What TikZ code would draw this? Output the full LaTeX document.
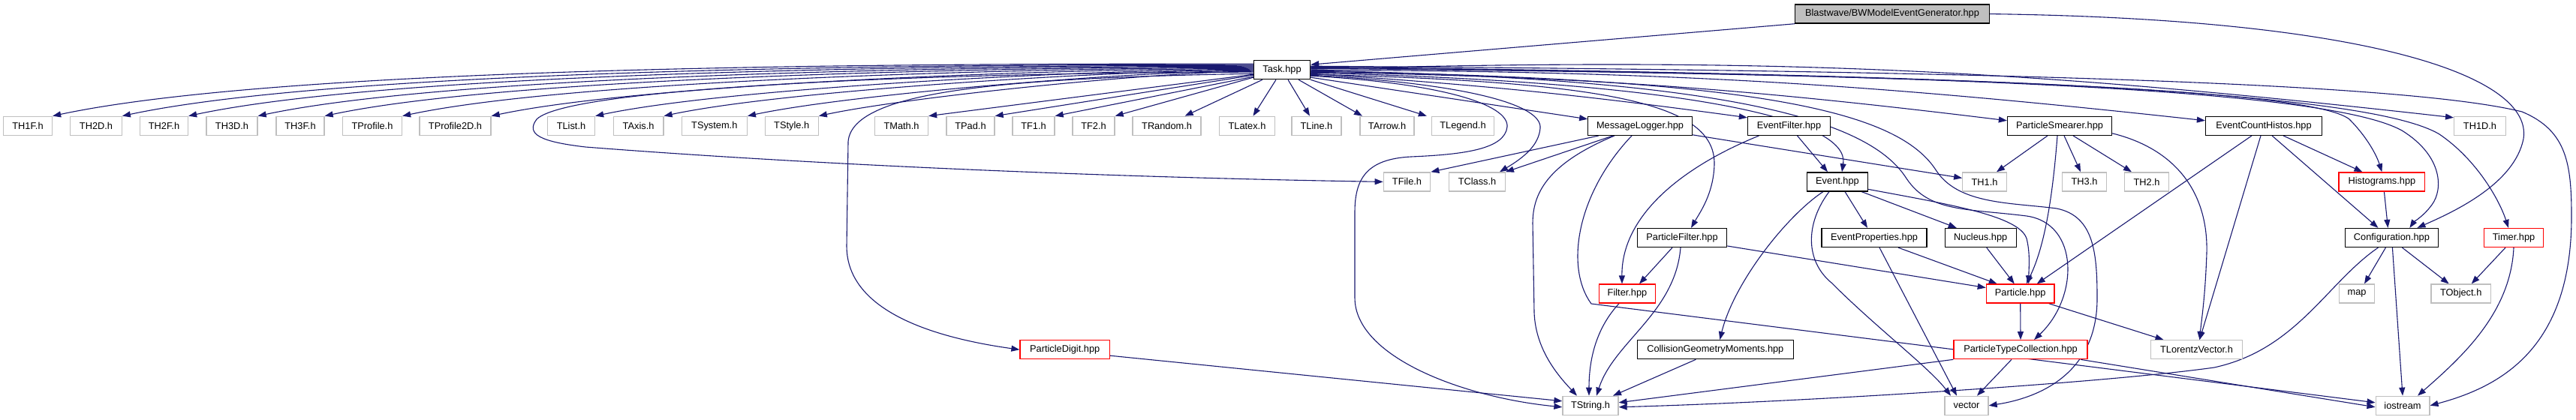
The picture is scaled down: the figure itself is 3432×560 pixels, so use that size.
\documentclass[tikz,border=0pt]{standalone}
\usepackage{fontspec}
\setmainfont{Liberation Sans}
\usetikzlibrary{arrows.meta}
\definecolor{navy}{HTML}{191970}
\definecolor{gray75}{HTML}{BFBFBF}
\definecolor{nred}{HTML}{FF0000}
\pgfdeclarelayer{bg}
\pgfsetlayers{bg,main}
\newcommand\nodefont{\fontsize{6.4}{7.5}\selectfont}
\begin{document}
\begin{tikzpicture}[x=0.5pt,y=-0.5pt,
 hbox/.style={draw=#1, line width=0.65pt, minimum height=12.5pt, inner sep=0pt, font=\nodefont, fill=white, text=black},
 ext/.style={hbox=gray75},
 doc/.style={hbox=black},
 trunc/.style={hbox=nred},
 wd/.style={minimum width=#1*0.5pt},
 edg/.style={draw=navy, line width=0.55pt, -{Triangle[length=5.5pt,width=4pt]}},
 fan/.style={out=180,in=12,looseness=0.55}
]
\useasboundingbox (0,0) rectangle (3432,560);
% row 0
\node[doc, fill=gray75, wd=259] (bw) at (2521,18.6) {Blastwave/BWModelEventGenerator.hpp};
% row 1
\node[doc, wd=75] (task) at (1708,93.2) {Task.hpp};
% row 2
\node[ext, wd=65] (th1f) at (37,167.8) {TH1F.h};
\node[ext, wd=68.5] (th2d) at (128,167.8) {TH2D.h};
\node[ext, wd=64] (th2f) at (218.5,167.8) {TH2F.h};
\node[ext, wd=68] (th3d) at (309,167.8) {TH3D.h};
\node[ext, wd=64] (th3f) at (400,167.8) {TH3F.h};
\node[ext, wd=79] (tprof) at (496,167.8) {TProfile.h};
\node[ext, wd=95] (tprof2) at (606.5,167.8) {TProfile2D.h};
\node[ext, wd=63] (tlist) at (761,167.8) {TList.h};
\node[ext, wd=66.6] (taxis) at (850.6,167.8) {TAxis.h};
\node[ext, wd=87] (tsys) at (951.8,167.8) {TSystem.h};
\node[ext, wd=71] (tstyle) at (1054.7,167.8) {TStyle.h};
\node[ext, wd=71] (tmath) at (1201,167.8) {TMath.h};
\node[ext, wd=64] (tpad) at (1293,167.8) {TPad.h};
\node[ext, wd=56] (tf1) at (1377,167.8) {TF1.h};
\node[ext, wd=56] (tf2) at (1457,167.8) {TF2.h};
\node[ext, wd=91] (trand) at (1554.6,167.8) {TRandom.h};
\node[ext, wd=74] (tlatex) at (1661.5,167.8) {TLatex.h};
\node[ext, wd=66] (tline) at (1754,167.8) {TLine.h};
\node[ext, wd=72] (tarrow) at (1848,167.8) {TArrow.h};
\node[ext, wd=83] (tlegend) at (1949,167.8) {TLegend.h};
\node[doc, wd=138.5] (msglog) at (2185,167.8) {MessageLogger.hpp};
\node[doc, wd=110] (evfilt) at (2383.5,167.8) {EventFilter.hpp};
\node[doc, wd=139] (psmear) at (2744,167.8) {ParticleSmearer.hpp};
\node[doc, wd=155] (ech) at (3016,167.8) {EventCountHistos.hpp};
\node[ext, wd=68.7] (th1d) at (3304,167.8) {TH1D.h};
% row 3
\node[ext, wd=62.4] (tfile) at (1874.5,242.4) {TFile.h};
\node[ext, wd=74.6] (tclass) at (1968,242.4) {TClass.h};
\node[doc, wd=81] (event) at (2448,242.4) {Event.hpp};
\node[ext, wd=58.5] (th1) at (2644,242.4) {TH1.h};
\node[ext, wd=59] (th3) at (2777,242.4) {TH3.h};
\node[ext, wd=59] (th2) at (2860,242.4) {TH2.h};
\node[trunc, wd=114.7] (hist) at (3173.4,242.4) {Histograms.hpp};
% row 4
\node[doc, wd=119.4] (pfilt) at (2241,317) {ParticleFilter.hpp};
\node[doc, wd=140] (evprop) at (2497,317) {EventProperties.hpp};
\node[doc, wd=95] (nucleus) at (2638.7,317) {Nucleus.hpp};
\node[doc, wd=124] (config) at (3186.4,317) {Configuration.hpp};
\node[trunc, wd=79.3] (timer) at (3349,317) {Timer.hpp};
% row 5
\node[trunc, wd=75] (filter) at (2168,391.6) {Filter.hpp};
\node[trunc, wd=90.7] (particle) at (2691.7,391.6) {Particle.hpp};
\node[ext, wd=47] (map) at (3140,391.6) {map};
\node[ext, wd=79.3] (tobject) at (3278.7,391.6) {TObject.h};
% row 6
\node[trunc, wd=119.4] (pdigit) at (1418.7,466.2) {ParticleDigit.hpp};
\node[doc, wd=208] (cgm) at (2285.3,466.2) {CollisionGeometryMoments.hpp};
\node[trunc, wd=178] (ptc) at (2692,466.2) {ParticleTypeCollection.hpp};
\node[ext, wd=121.5] (tlv) at (2926.5,466.2) {TLorentzVector.h};
% row 7
\node[ext, wd=74] (tstring) at (2119,540.8) {TString.h};
\node[ext, wd=58] (vector) at (2620,540.8) {vector};
\node[ext, wd=71.7] (iostream) at (3201,540.8) {iostream};

\begin{pgfonlayer}{bg}
\fill[white] (0,0) rectangle (3432,560);
% BW
\draw[edg] (bw.south west) -- ([yshift=3.5pt]task.east);
\draw[edg] (bw.east) .. controls (3150,25) and (3375,100) .. (3362,185) .. controls (3350,245) and (3270,282) .. ([xshift=17pt]config.north);
% Task -> left fan
\draw[edg] ([yshift=4pt]task.west) to[fan] (th1f.north east);
\draw[edg] ([yshift=3.5pt]task.west) to[fan] (th2d.north east);
\draw[edg] ([yshift=3pt]task.west) to[fan] (th2f.north east);
\draw[edg] ([yshift=2.5pt]task.west) to[fan] (th3d.north east);
\draw[edg] ([yshift=2pt]task.west) to[fan] (th3f.north east);
\draw[edg] ([yshift=1.5pt]task.west) to[fan] (tprof.north east);
\draw[edg] ([yshift=1pt]task.west) to[fan] (tprof2.north east);
\draw[edg] ([yshift=0.5pt]task.west) to[fan] (tlist.north east);
\draw[edg] (task.west) to[fan] (taxis.north east);
\draw[edg] ([yshift=-0.5pt]task.west) to[fan] (tsys.north east);
\draw[edg] ([yshift=-1pt]task.west) to[fan] (tstyle.north east);
\draw[edg] ([yshift=-3pt]task.west) -- (tmath.north east);
\draw[edg] ([yshift=-3.5pt]task.west) -- (tpad.north east);
\draw[edg] ([yshift=-4.5pt]task.west) -- (tf1.north east);
\draw[edg] ([yshift=-5pt]task.west) -- (tf2.north east);
\draw[edg] ([yshift=-1.5pt]task.west) .. controls (1300,96) and (760,114) .. (715,159) .. controls (700,179) and (720,189) .. (780,196) .. controls (1100,221) and (1500,237) .. (tfile.west);
\draw[edg] ([yshift=-2.5pt]task.west) .. controls (1350,104) and (1135,119) .. (1130,189) -- (1128,328) .. controls (1128,417) and (1250,451) .. (pdigit.west);
% Task -> bottom
\draw[edg] ([xshift=6pt]task.south west) -- ([xshift=12pt]trand.north);
\draw[edg] ([xshift=-4pt]task.south) -- ([xshift=4pt]tlatex.north);
\draw[edg] ([xshift=4pt]task.south) -- ([xshift=-4.5pt]tline.north);
\draw[edg] ([xshift=-8pt]task.south east) -- ([xshift=-16.5pt]tarrow.north);
\draw[edg] (task.south east) -- ([xshift=-3pt]tlegend.north west);
% Task -> right
\draw[edg] ([yshift=2.5pt]task.east) .. controls (2600,94) and (3200,109) .. (3360,149) .. controls (3420,174) and (3426,219) .. (3426,289) .. controls (3426,466) and (3330,516) .. (iostream.east);
\draw[edg] ([yshift=2pt]task.east) .. controls (2600,99) and (3150,119) .. (3250,179) .. controls (3300,213) and (3330,267) .. ([xshift=-3.5pt]timer.north);
\draw[edg] ([yshift=1.5pt]task.east) .. controls (2600,99) and (3100,119) .. (3200,174) .. controls (3255,208) and (3255,253) .. (3240,273) .. controls (3230,287) and (3215,297) .. ([xshift=12pt]config.north);
\draw[edg] ([yshift=1pt]task.east) .. controls (2600,99) and (3080,119) .. (3130,159) .. controls (3150,179) and (3165,203) .. (hist.north);
\draw[edg] ([yshift=0.5pt]task.east) to[bend left=4] ([yshift=5.5pt]th1d.west);
\draw[edg] (task.east) to[bend left=3] ([yshift=3.5pt]ech.west);
\draw[edg] ([yshift=-0.5pt]task.east) .. controls (2300,104) and (2490,159) .. (2540,238) .. controls (2570,283) and (2620,278) .. (2700,288) .. controls (2770,298) and (2770,396) .. ([xshift=9pt]ptc.north);
\draw[edg] ([yshift=-1pt]task.east) .. controls (2350,104) and (2530,149) .. (2580,228) .. controls (2610,273) and (2680,270) .. (2740,278) .. controls (2790,288) and (2794,338) .. (2794,398) .. controls (2794,496) and (2720,530) .. (vector.east);
\draw[edg] ([yshift=-1.5pt]task.east) to[bend left=3] ([yshift=3.5pt]psmear.west);
\draw[edg] ([yshift=-2pt]task.east) .. controls (2250,109) and (2465,159) .. ([xshift=3pt]event.north);
\draw[edg] ([yshift=-2.5pt]task.east) to[bend left=2] ([yshift=5.5pt]evfilt.west);
\draw[edg] ([yshift=-3pt]task.east) .. controls (2150,109) and (2285,139) .. (2284,219) .. controls (2283,258) and (2265,283) .. ([xshift=6pt]pfilt.north);
\draw[edg] ([yshift=-3.5pt]task.east) .. controls (1950,111) and (2055,139) .. (2052,171) .. controls (2050,194) and (2030,210) .. ([xshift=15pt]tclass.north);
\draw[edg] ([yshift=-4pt]task.east) .. controls (1920,111) and (2010,139) .. (2008,169) .. controls (2005,199) and (1950,206) .. (1880,209) .. controls (1820,212) and (1805,239) .. (1805,283) -- (1805,397) .. controls (1805,476) and (1950,530) .. ([yshift=-1pt]tstring.west);
\draw[edg] ([yshift=-5pt]task.east) -- ([yshift=4.5pt]msglog.west);
% MessageLogger
\draw[edg] ([xshift=-27.5pt]msglog.south) -- (tfile.north east);
\draw[edg] ([xshift=-18pt]msglog.south) -- (tclass.north east);
\draw[edg] ([xshift=-17pt]msglog.south) .. controls (2060,219) and (2042,259) .. (2042,298) -- (2044,417) .. controls (2046,466) and (2075,500) .. ([xshift=-9pt]tstring.north);
\draw[edg] ([xshift=-5.5pt]msglog.south) .. controls (2100,259) and (2085,357) .. (2120,405) -- ([yshift=2pt]iostream.west);
\draw[edg] ([yshift=-6pt]msglog.east) -- ([yshift=2.5pt]th1.west);
% EventFilter
\draw[edg] ([xshift=5.5pt]evfilt.south) -- ([xshift=-6.5pt]event.north);
\draw[edg] ([xshift=-20pt]evfilt.south) .. controls (2240,223) and (2160,288) .. ([xshift=-3.5pt]filter.north);
% ParticleSmearer
\draw[edg] ([xshift=-8pt]psmear.south) -- ([xshift=8pt]th1.north);
\draw[edg] ([xshift=3pt]psmear.south) -- ([xshift=-2.5pt]th3.north);
\draw[edg] ([xshift=9pt]psmear.south) -- ([xshift=-10pt]th2.north);
\draw[edg] ([xshift=-1.5pt]psmear.south) .. controls (2735,258) and (2725,327) .. ([xshift=4pt]particle.north);
\draw[edg] ([yshift=-5pt]psmear.east) .. controls (2900,199) and (2942,258) .. (2940,337) .. controls (2938,397) and (2933,426) .. ([xshift=2pt]tlv.north);
% EventCountHistos
\draw[edg] ([xshift=-8pt]ech.south) -- ([xshift=11pt]particle.north);
\draw[edg] ([xshift=-2pt]ech.south) -- ([xshift=2pt]tlv.north);
\draw[edg] ([xshift=5.5pt]ech.south) -- ([xshift=-9pt]config.north);
\draw[edg] ([xshift=13pt]ech.south) -- ([xshift=-13pt]hist.north);
\draw[edg] ([xshift=1.5pt]hist.south) -- ([xshift=-2.5pt]config.north);
% Event
\draw[edg] ([xshift=5pt]event.south) -- ([xshift=-4.5pt]evprop.north);
\draw[edg] ([xshift=16pt]event.south) -- ([xshift=-16pt]nucleus.north);
\draw[edg] ([yshift=-5pt]event.east) .. controls (2600,273) and (2690,288) .. (2700,318) .. controls (2705,338) and (2703,357) .. ([xshift=5.5pt]particle.north);
\draw[edg] ([xshift=-9.5pt]event.south) .. controls (2380,288) and (2310,377) .. ([xshift=3pt]cgm.north);
\draw[edg] ([xshift=-5.5pt]event.south) .. controls (2405,298) and (2405,348) .. (2440,377) .. controls (2500,437) and (2570,490) .. ([xshift=-10.5pt]vector.north);
% EventProperties, Nucleus
\draw[edg] ([xshift=16pt]evprop.south) -- ([xshift=-15.5pt]particle.north);
\draw[edg] ([xshift=3.5pt]evprop.south) -- ([xshift=-6.5pt]vector.north);
\draw[edg] ([xshift=4pt]nucleus.south) -- ([xshift=-4pt]particle.north);
% Particle, PTC
\draw[edg] (particle.south) -- (ptc.north);
\draw[edg] ([xshift=19pt]particle.south) -- ([xshift=-22pt]tlv.north);
\draw[edg] ([xshift=-6pt]ptc.south) -- ([xshift=7pt]vector.north);
\draw[edg] ([xshift=40pt]ptc.south) -- ([yshift=-1pt]iostream.west);
\draw[edg] (ptc.south west) -- ([yshift=2pt]tstring.east);
% Configuration, Timer
\draw[edg] ([xshift=-9pt]config.south) .. controls (3100,377) and (3060,466) .. (2950,490) .. controls (2800,511) and (2400,536) .. ([yshift=-1pt]tstring.east);
\draw[edg] ([xshift=-4pt]config.south) -- ([xshift=5pt]map.north);
\draw[edg] ([xshift=7pt]config.south) -- ([xshift=-8pt]tobject.north);
\draw[edg] ([xshift=0.5pt]config.south) -- (iostream.north);
\draw[edg] ([xshift=-5.5pt]timer.south) -- ([xshift=7pt]tobject.north);
\draw[edg] (timer.south) .. controls (3345,417) and (3280,476) .. ([xshift=10pt]iostream.north);
% Filter, ParticleFilter, CGM, ParticleDigit
\draw[edg] ([xshift=-5.5pt]filter.south) .. controls (2128,436) and (2117,476) .. ([xshift=-1pt]tstring.north);
\draw[edg] ([xshift=-6.5pt]pfilt.south) -- ([xshift=8pt]filter.north);
\draw[edg] ([xshift=-1pt]pfilt.south) .. controls (2232,417) and (2150,456) .. ([xshift=4pt]tstring.north);
\draw[edg] ([yshift=-5.5pt]pfilt.east) -- ([yshift=4pt]particle.west);
\draw[edg] ([xshift=-13pt]cgm.south) -- ([xshift=15pt]tstring.north);
\draw[edg] ([yshift=-4pt]pdigit.east) -- ([yshift=3pt]tstring.west);
\end{pgfonlayer}
\end{tikzpicture}
\end{document}
